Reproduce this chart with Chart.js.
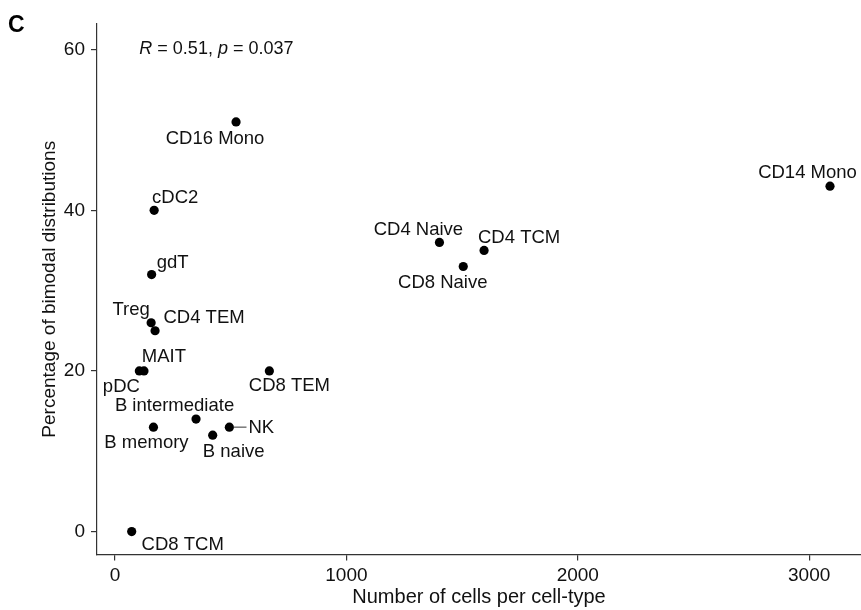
<!DOCTYPE html>
<html>
<head>
<meta charset="utf-8">
<script src="https://cdn.jsdelivr.net/npm/chart.js@4/dist/chart.umd.min.js"></script>
<style>
  html, body { margin: 0; padding: 0; background: #ffffff; }
  #wrap { width: 861px; height: 610px; }
</style>
</head>
<body>
<div id="wrap"><canvas id="c" width="861" height="610"></canvas></div>
<script>
// ---- data ----
const cellTypes = ["CD16 Mono", "cDC2", "gdT", "Treg", "CD4 TEM", "MAIT", "pDC", "CD8 TEM",
  "B intermediate", "B memory", "B naive", "NK", "CD8 TCM", "CD4 Naive", "CD4 TCM", "CD8 Naive", "CD14 Mono"];
const cellCounts = [523, 169, 158, 156, 173, 125, 105, 667, 350, 166, 422, 494, 72, 1402, 1595, 1505, 3090];
const bimodalPct = [51, 40, 32, 26, 25, 20, 20, 20, 14, 13, 12, 13, 0, 36, 35, 33, 43];
const xTicks = [0, 1000, 2000, 3000];
const yTicks = [0, 20, 40, 60];
const corrR = "0.51";
const corrP = "0.037";

// ---- label placement (repel-style offsets in pixels, layout only) ----
const labelOffsets = {
  "CD16 Mono": [-21, 16], "cDC2": [21, -13], "gdT": [21, -13], "Treg": [-20, -14],
  "CD4 TEM": [49, -14], "MAIT": [20, -15], "pDC": [-18, 15], "CD8 TEM": [20, 14],
  "B intermediate": [-21.5, -14], "B memory": [-7, 15], "B naive": [21, 16],
  "NK": [32, 0], "CD8 TCM": [51, 12], "CD4 Naive": [-21, -14], "CD4 TCM": [35, -14],
  "CD8 Naive": [-20.5, 15], "CD14 Mono": [-22.5, -14]
};
const segmentLabels = { "NK": true };

const FONT = "'Liberation Sans', Arial, Helvetica, sans-serif";

const points = cellCounts.map((v, i) => ({ x: v, y: bimodalPct[i], label: cellTypes[i] }));

const labelPlugin = {
  id: 'pointLabels',
  afterDatasetsDraw(chart) {
    const ctx = chart.ctx;
    const meta = chart.getDatasetMeta(0);
    ctx.save();
    ctx.font = "18.5px " + FONT;
    ctx.fillStyle = "#111";
    ctx.textAlign = "center";
    ctx.textBaseline = "middle";
    meta.data.forEach((el, i) => {
      const name = cellTypes[i];
      const off = labelOffsets[name] || [0, -14];
      const tx = el.x + off[0], ty = el.y + off[1] + 1;
      if (segmentLabels[name]) {
        const w = ctx.measureText(name).width;
        ctx.beginPath();
        ctx.strokeStyle = "#333";
        ctx.lineWidth = 1;
        ctx.moveTo(el.x + 4, el.y);
        ctx.lineTo(tx - w / 2 - 2, el.y);
        ctx.stroke();
      }
      ctx.fillText(name, tx, ty);
    });
    ctx.restore();
  }
};

const annotPlugin = {
  id: 'annot',
  afterDraw(chart) {
    const ctx = chart.ctx;
    const xs = chart.scales.x, ys = chart.scales.y;
    ctx.save();
    let x = xs.getPixelForValue(105);
    const y = ys.getPixelForValue(60.1);
    ctx.textBaseline = "middle";
    ctx.textAlign = "left";
    ctx.fillStyle = "#111";
    const parts = [["R", true], [" = " + corrR + ", ", false], ["p", true], [" = " + corrP, false]];
    parts.forEach(([t, it]) => {
      ctx.font = (it ? "italic " : "") + "18px " + FONT;
      ctx.fillText(t, x, y);
      x += ctx.measureText(t).width;
    });
    ctx.font = "bold 23px " + FONT;
    ctx.textBaseline = "alphabetic";
    ctx.fillStyle = "#000";
    ctx.fillText("C", 8, 31.7);
    ctx.restore();
  }
};

new Chart(document.getElementById('c'), {
  type: 'scatter',
  data: {
    datasets: [{
      data: points,
      backgroundColor: '#000',
      borderColor: '#000',
      pointRadius: 4.6,
      pointHoverRadius: 4.6,
      borderWidth: 0,
      clip: false
    }]
  },
  options: {
    responsive: false,
    animation: false,
    layout: { autoPadding: false, padding: { top: 24, right: 0, left: 0, bottom: 0 } },
    plugins: { legend: { display: false }, tooltip: { enabled: false } },
    scales: {
      x: {
        type: 'linear',
        min: -78, max: 3224,
        afterBuildTicks: s => { s.ticks = xTicks.map(v => ({ value: v })); },
        afterFit: s => { s.height = 55.5; },
        ticks: { color: '#111', font: { family: FONT, size: 19 }, padding: 4, maxRotation: 0,
                 callback: v => String(v) },
        grid: { drawOnChartArea: false, drawTicks: true, tickLength: 6, color: '#333', lineWidth: 1.2 },
        border: { display: true, color: '#333', width: 1.2 },
        title: { display: true, text: 'Number of cells per cell-type', color: '#111',
                 font: { family: FONT, size: 20, lineHeight: 1.2 }, padding: { top: 0, bottom: 0.5 } }
      },
      y: {
        type: 'linear',
        min: -2.86, max: 63.2,
        afterBuildTicks: s => { s.ticks = yTicks.map(v => ({ value: v })); },
        afterFit: s => { s.width = 97; },
        ticks: { color: '#111', font: { family: FONT, size: 19 }, padding: 6, callback: v => String(v) },
        grid: { drawOnChartArea: false, drawTicks: true, tickLength: 6, color: '#333', lineWidth: 1.2 },
        border: { display: true, color: '#333', width: 1.2 },
        title: { display: true, text: 'Percentage of bimodal distributions', color: '#111',
                 font: { family: FONT, size: 19, lineHeight: 1.2 }, padding: { top: 38.6, bottom: 0 } }
      }
    }
  },
  plugins: [labelPlugin, annotPlugin]
});
</script>
</body>
</html>
